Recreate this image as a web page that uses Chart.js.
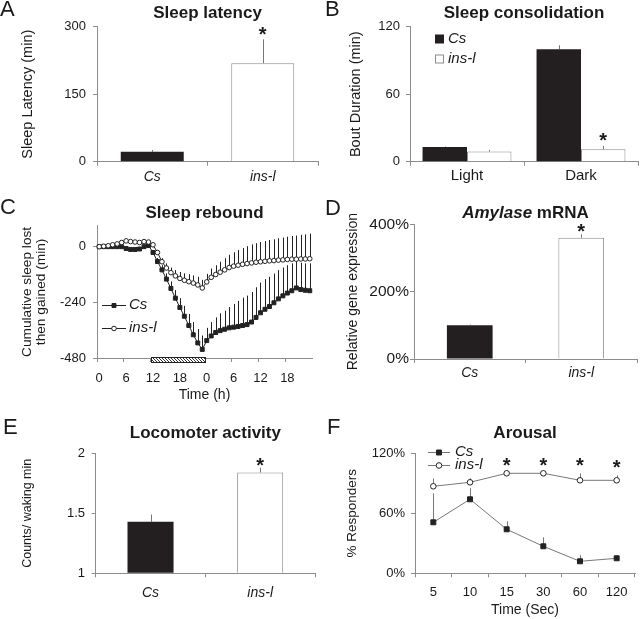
<!DOCTYPE html>
<html>
<head>
<meta charset="utf-8">
<script src="https://cdn.jsdelivr.net/npm/chart.js@4.4.1/dist/chart.umd.min.js"></script>
<style>
  html, body { margin: 0; padding: 0; background: #fff; }
  #figure { position: relative; width: 640px; height: 619px; overflow: hidden; }
  #figure canvas { position: absolute; }
</style>
</head>
<body>
<div id="figure">
  <canvas id="panel-a" width="320" height="195" style="left:0;top:0"></canvas>
  <canvas id="panel-b" width="320" height="195" style="left:320px;top:0"></canvas>
  <canvas id="panel-c" width="320" height="215" style="left:0;top:195px"></canvas>
  <canvas id="panel-d" width="320" height="215" style="left:320px;top:195px"></canvas>
  <canvas id="panel-e" width="320" height="209" style="left:0;top:410px"></canvas>
  <canvas id="panel-f" width="320" height="209" style="left:320px;top:410px"></canvas>
</div>
<script>
// ---- data ----
const genotypes = ['Cs', 'ins-l'];

// A: sleep latency (min)
const latencyMeans = [22, 219];
const latencyErrors = [4, 53];
const latencySig = [false, true];
const latencyTicks = [0, 150, 300];

// B: sleep consolidation, bout duration (min)
const boutPhases = ['Light', 'Dark'];
const boutCs = [13, 100];
const boutCsErr = [0.5, 3.5];
const boutIns = [9, 11];
const boutInsErr = [1.5, 3];
const boutInsSig = [false, true];
const boutTicks = [0, 60, 120];

// C: sleep rebound, cumulative sleep lost then gained (min), hourly
const reboundClock = [0, 1, 2, 3, 4, 5, 6, 7, 8, 9, 10, 11, 12, 13, 14, 15, 16, 17, 18, 19, 20, 21, 22, 23,
                      0, 1, 2, 3, 4, 5, 6, 7, 8, 9, 10, 11, 12, 13, 14, 15, 16, 17, 18, 19, 20, 21, 22, 23];
const reboundCs = [0, 0, 0, 0, 0, 0, -8, -12, -12, -10, 0, 5,
                   -25, -64, -100, -140, -180, -222, -262, -300, -340, -380, -415, -443,
                   -405, -385, -370, -362, -356, -350, -347, -344, -340, -336, -325, -305,
                   -285, -270, -258, -242, -225, -212, -200, -190, -178, -185, -188, -190];
const reboundCsErr = [0, 0, 0, 0, 0, 0, 0, 0, 0, 0, 0, 0,
                      10, 15, 20, 25, 30, 35, 40, 45, 50, 55, 60, 60,
                      55, 60, 65, 75, 80, 90, 100, 110, 120, 125, 130, 130,
                      130, 130, 128, 126, 124, 122, 120, 118, 116, 116, 116, 118];
const reboundIns = [0, 2, 4, 8, 12, 18, 25, 22, 20, 18, 22, 20,
                    8, -25, -65, -92, -112, -126, -137, -145, -151, -157, -165, -178,
                    -152, -132, -120, -110, -100, -90, -84, -80, -76, -73, -70, -67,
                    -65, -63, -61, -60, -58, -57, -55, -54, -54, -53, -53, -52];
const reboundInsErr = [0, 0, 0, 0, 0, 0, 0, 0, 0, 0, 0, 0,
                       0, 10, 15, 20, 22, 25, 28, 30, 32, 33, 35, 35,
                       35, 38, 40, 45, 50, 55, 60, 65, 70, 75, 80, 82,
                       85, 87, 90, 92, 94, 96, 98, 100, 102, 104, 106, 108];
const reboundTicks = [-480, -240, 0];
const deprivationSpan = [12, 23]; // first and last hour index under the hatched bar

// D: Amylase mRNA, relative gene expression (%)
const amylaseMeans = [100, 360];
const amylaseErrors = [2, 10];
const amylaseSig = [false, true];
const amylaseTicks = [0, 200, 400];

// E: locomoter activity, counts per waking min
const locoMeans = [1.43, 1.84];
const locoErrors = [0.06, 0.04];
const locoSig = [false, true];
const locoTicks = [1, 1.5, 2];

// F: arousal, % responders
const arousalTimes = ['5', '10', '15', '30', '60', '120'];
const arousalCs = [51, 74, 44, 27, 12, 15];
const arousalCsErr = [29, 11, 8, 9, 6, 3];
const arousalIns = [87, 91, 100, 100, 93, 93];
const arousalInsErr = [8, 4, 0, 0, 7, 5];
const arousalSig = [false, false, true, true, true, true];
const arousalTicks = [0, 60, 120];

// ---- look ----
const FONT = "'Liberation Sans', Arial, Helvetica, sans-serif";
const AXIS = '#8c8c8c';
const DARK = '#231f20';
const TEXT = '#1a1a1a';

Chart.defaults.font.family = FONT;
Chart.defaults.color = TEXT;
Chart.defaults.animation = false;

function drawMarker(ctx, ds, x, y) {
    const r = ds.pointRadius;
    ctx.fillStyle = ds.pointBackgroundColor;
    ctx.strokeStyle = ds.pointBorderColor;
    ctx.lineWidth = 1;
    ctx.beginPath();
    if (ds.pointStyle === 'rect') {
        const s = r * Math.SQRT1_2;
        ctx.rect(x - s, y - s, 2 * s, 2 * s);
    } else {
        ctx.arc(x, y, r, 0, Math.PI * 2);
    }
    ctx.fill();
    ctx.stroke();
}

// panel letter + title centred over the plot area
const panelText = {
    id: 'panelText',
    afterDraw(chart, args, opts) {
        if (!opts.letter) return;
        const ctx = chart.ctx;
        const area = chart.chartArea;
        ctx.save();
        ctx.fillStyle = TEXT;
        ctx.textBaseline = 'middle';
        ctx.textAlign = 'left';
        ctx.font = `22px ${FONT}`;
        ctx.fillText(opts.letter, opts.letterX, opts.letterY);

        const fontOf = p => `${p.italic ? 'italic ' : ''}bold 17px ${FONT}`;
        const widths = opts.title.map(p => { ctx.font = fontOf(p); return ctx.measureText(p.text).width; });
        const total = widths.reduce((a, b) => a + b, 0);
        let x = (area.left + area.right) / 2 - total / 2;
        opts.title.forEach((p, i) => {
            ctx.font = fontOf(p);
            ctx.fillText(p.text, x, opts.titleY);
            x += widths[i];
        });
        ctx.restore();
    }
};

// upper error bars from dataset.errors
const errorBars = {
    id: 'errorBars',
    beforeDatasetsDraw(chart, args, opts) {
        const ctx = chart.ctx;
        const yScale = chart.scales.y;
        chart.data.datasets.forEach((ds, di) => {
            if (!ds.errors) return;
            const meta = chart.getDatasetMeta(di);
            ctx.save();
            ctx.strokeStyle = opts.color || '#777';
            ctx.lineWidth = 1;
            meta.data.forEach((el, i) => {
                const err = ds.errors[i];
                if (!err) return;
                const top = yScale.getPixelForValue(ds.data[i] + err);
                const x = Math.round(el.x) + 0.5;
                ctx.beginPath();
                ctx.moveTo(x, el.y);
                ctx.lineTo(x, top);
                ctx.stroke();
            });
            ctx.restore();
        });
    }
};

// significance asterisks above dataset.stars
const stars = {
    id: 'stars',
    afterDatasetsDraw(chart, args, opts) {
        const ctx = chart.ctx;
        const yScale = chart.scales.y;
        chart.data.datasets.forEach((ds, di) => {
            if (!ds.stars) return;
            const meta = chart.getDatasetMeta(di);
            ctx.save();
            ctx.font = `bold 20px ${FONT}`;
            ctx.fillStyle = TEXT;
            ctx.textAlign = 'center';
            ctx.textBaseline = 'alphabetic';
            const m = ctx.measureText('*');
            const shift = (m.actualBoundingBoxAscent - m.actualBoundingBoxDescent) / 2;
            ds.stars.forEach((on, i) => {
                if (!on) return;
                const top = yScale.getPixelForValue(ds.data[i] + (ds.errors ? ds.errors[i] : 0));
                ctx.fillText('*', meta.data[i].x, top - (opts.gap || 8) + shift);
            });
            ctx.restore();
        });
    }
};

// legend drawn inside the plot area
const insideLegend = {
    id: 'insideLegend',
    afterDraw(chart, args, opts) {
        if (!opts.rows) return;
        const ctx = chart.ctx;
        ctx.save();
        chart.data.datasets.forEach((ds, i) => {
            const cy = opts.rows[i];
            if (opts.symbol === 'box') {
                const b = opts.box;
                ctx.fillStyle = ds.backgroundColor;
                ctx.fillRect(opts.x, cy - b / 2, b, b);
                if (ds.borderWidth) {
                    ctx.strokeStyle = ds.borderColor;
                    ctx.lineWidth = 1;
                    ctx.strokeRect(opts.x + 0.5, cy - b / 2 + 0.5, b - 1, b - 1);
                }
            } else {
                ctx.strokeStyle = ds.borderColor;
                ctx.lineWidth = 1;
                ctx.beginPath();
                ctx.moveTo(opts.x, Math.round(cy) + 0.5);
                ctx.lineTo(opts.x + opts.len, Math.round(cy) + 0.5);
                ctx.stroke();
                drawMarker(ctx, ds, opts.x + opts.len / 2, Math.round(cy) + 0.5);
            }
            ctx.fillStyle = TEXT;
            ctx.font = `italic 15px ${FONT}`;
            ctx.textBaseline = 'middle';
            ctx.fillText(ds.label, opts.textX, cy);
        });
        ctx.restore();
    }
};

// hatched sleep-deprivation bar along the time axis
const hatchBar = {
    id: 'hatchBar',
    afterDraw(chart, args, opts) {
        if (!opts.span) return;
        const ctx = chart.ctx;
        const xs = chart.scales.x;
        const half = (xs.getPixelForValue(1) - xs.getPixelForValue(0)) / 2;
        const x0 = Math.round(xs.getPixelForValue(opts.span[0]) - half) + 0.5;
        const x1 = Math.round(xs.getPixelForValue(opts.span[1]) + half) + 0.5;
        const y0 = Math.round(chart.chartArea.bottom) - 0.5;
        const h = opts.height;
        ctx.save();
        ctx.fillStyle = '#fff';
        ctx.fillRect(x0, y0, x1 - x0, h);
        ctx.beginPath();
        ctx.rect(x0, y0, x1 - x0, h);
        ctx.clip();
        ctx.strokeStyle = '#333';
        ctx.lineWidth = 1;
        for (let s = x0 - h; s < x1; s += 3) {
            ctx.beginPath();
            ctx.moveTo(s, y0);
            ctx.lineTo(s + h, y0 + h);
            ctx.stroke();
        }
        ctx.restore();
        ctx.save();
        ctx.strokeStyle = '#222';
        ctx.lineWidth = 1;
        ctx.strokeRect(x0, y0, x1 - x0, h);
        ctx.restore();
    }
};

Chart.register(panelText, errorBars, stars, insideLegend, hatchBar);

function yAxis(o) {
    const ticks = { font: { size: o.tickSize || 13 }, padding: o.tickPad };
    if (o.fmt) ticks.callback = o.fmt;
    return {
        min: o.min,
        max: o.max,
        afterFit: s => { s.width = o.width; },
        afterBuildTicks: s => { s.ticks = o.ticks.map(v => ({ value: v })); },
        border: { color: AXIS },
        grid: { drawOnChartArea: false, color: AXIS, tickLength: o.tickLength || 4 },
        ticks: ticks,
        title: {
            display: true,
            text: o.title,
            font: { size: o.titleSize, lineHeight: o.titleLine || 1.2 },
            padding: { top: o.titlePad, bottom: 0 }
        }
    };
}

function xAxis(o) {
    const grid = { offset: true, drawOnChartArea: false, color: AXIS, tickLength: 4 };
    if (o.tickColor) grid.tickColor = o.tickColor;
    const ticks = {
        font: { size: o.tickSize || 14, style: o.italic ? 'italic' : 'normal' },
        padding: o.tickPad,
        autoSkip: false,
        maxRotation: 0
    };
    if (o.fmt) ticks.callback = o.fmt;
    const axis = {
        type: 'category',
        offset: true,
        afterFit: s => { s.height = o.height; },
        border: { color: AXIS },
        grid: grid,
        ticks: ticks
    };
    if (o.title) {
        axis.title = { display: true, text: o.title, font: { size: 14 }, padding: { top: 0, bottom: o.titlePad } };
    }
    return axis;
}

function basePlugins(extra) {
    return Object.assign({ legend: { display: false }, tooltip: { enabled: false } }, extra);
}

// ---- A: Sleep latency ----
new Chart(document.getElementById('panel-a'), {
    type: 'bar',
    data: {
        labels: genotypes,
        datasets: [{
            label: 'Sleep latency',
            data: latencyMeans,
            errors: latencyErrors,
            stars: latencySig,
            backgroundColor: [DARK, '#ffffff'],
            borderColor: [DARK, AXIS],
            borderWidth: [0, 1],
            barPercentage: 0.57,
            categoryPercentage: 1
        }]
    },
    options: {
        responsive: false,
        layout: { padding: { top: 26.7, right: 2, left: 0, bottom: 0 } },
        scales: {
            x: xAxis({ height: 33.3, italic: true, tickPad: 2.9 }),
            y: yAxis({ min: 0, max: 300, ticks: latencyTicks, width: 97, tickPad: 7,
                       title: 'Sleep Latency (min)', titleSize: 14.5, titlePad: 18.8 })
        },
        plugins: basePlugins({
            panelText: { letter: 'A', letterX: 0, letterY: 10, title: [{ text: 'Sleep latency' }], titleY: 13.3 },
            errorBars: { color: '#777' },
            stars: { gap: 8 }
        })
    }
});

// ---- B: Sleep consolidation ----
new Chart(document.getElementById('panel-b'), {
    type: 'bar',
    data: {
        labels: boutPhases,
        datasets: [
            {
                label: 'Cs',
                data: boutCs,
                errors: boutCsErr,
                backgroundColor: DARK,
                borderWidth: 0,
                barPercentage: 1,
                categoryPercentage: 0.78
            },
            {
                label: 'ins-l',
                data: boutIns,
                errors: boutInsErr,
                stars: boutInsSig,
                backgroundColor: '#ffffff',
                borderColor: AXIS,
                borderWidth: 1,
                barPercentage: 1,
                categoryPercentage: 0.78
            }
        ]
    },
    options: {
        responsive: false,
        layout: { padding: { top: 26.7, right: 2, left: 0, bottom: 0 } },
        scales: {
            x: xAxis({ height: 33.3, tickSize: 15, tickPad: 1.3 }),
            y: yAxis({ min: 0, max: 120, ticks: boutTicks, width: 90, tickPad: 6,
                       title: 'Bout Duration (min)', titleSize: 14.5, titlePad: 27.1 })
        },
        plugins: basePlugins({
            panelText: { letter: 'B', letterX: 5, letterY: 10, title: [{ text: 'Sleep consolidation' }], titleY: 13.3 },
            errorBars: { color: '#777' },
            stars: { gap: 9 },
            insideLegend: { symbol: 'box', x: 115, box: 9, rows: [39, 59], textX: 128 }
        })
    }
});

// ---- C: Sleep rebound ----
new Chart(document.getElementById('panel-c'), {
    type: 'line',
    data: {
        labels: reboundClock,
        datasets: [
            {
                label: 'Cs',
                data: reboundCs,
                errors: reboundCsErr,
                order: 2,
                borderColor: '#222',
                borderWidth: 1,
                tension: 0,
                pointStyle: 'rect',
                pointRadius: 2.8,
                pointBorderWidth: 1,
                pointBackgroundColor: '#222',
                pointBorderColor: '#222'
            },
            {
                label: 'ins-l',
                data: reboundIns,
                errors: reboundInsErr,
                order: 1,
                borderColor: '#222',
                borderWidth: 1,
                tension: 0,
                pointStyle: 'circle',
                pointRadius: 2.3,
                pointBorderWidth: 1,
                pointBackgroundColor: '#ffffff',
                pointBorderColor: '#222'
            }
        ]
    },
    options: {
        responsive: false,
        layout: { padding: { top: 30.8, right: 8, left: 0, bottom: 0 } },
        scales: {
            x: xAxis({
                height: 52, tickSize: 13, tickPad: 8.5, title: 'Time (h)', titlePad: 6.6,
                tickColor: ctx => (ctx.index % 6 === 0 ? AXIS : 'rgba(0,0,0,0)'),
                fmt: (v, i) => (i % 6 === 0 ? String(reboundClock[i]) : '')
            }),
            y: yAxis({ min: -480, max: 90, ticks: reboundTicks, width: 97, tickPad: 7,
                       title: ['Cumulative sleep lost', 'then gained (min)'],
                       titleSize: 13.7, titleLine: 1, titlePad: 20.6 })
        },
        plugins: basePlugins({
            panelText: { letter: 'C', letterX: 0, letterY: 13, title: [{ text: 'Sleep rebound' }], titleY: 18.3 },
            errorBars: { color: '#222' },
            insideLegend: { symbol: 'line', x: 102, len: 24, rows: [110, 133.3], textX: 129 },
            hatchBar: { span: deprivationSpan, height: 5 }
        })
    }
});

// ---- D: Amylase mRNA ----
new Chart(document.getElementById('panel-d'), {
    type: 'bar',
    data: {
        labels: genotypes,
        datasets: [{
            label: 'Amylase',
            data: amylaseMeans,
            errors: amylaseErrors,
            stars: amylaseSig,
            backgroundColor: [DARK, '#ffffff'],
            borderColor: [DARK, AXIS],
            borderWidth: [0, 1],
            barPercentage: 0.41,
            categoryPercentage: 1
        }]
    },
    options: {
        responsive: false,
        layout: { padding: { top: 29.3, right: 3, left: 0, bottom: 0 } },
        scales: {
            x: xAxis({ height: 51, italic: true, tickPad: 1.9 }),
            y: yAxis({ min: 0, max: 400, ticks: amylaseTicks, width: 94, tickPad: 1, tickSize: 15.5,
                       fmt: v => v + '%',
                       title: 'Relative gene expression', titleSize: 14, titlePad: 24.6 })
        },
        plugins: basePlugins({
            panelText: { letter: 'D', letterX: 5, letterY: 14,
                         title: [{ text: 'Amylase', italic: true }, { text: ' mRNA' }], titleY: 18.3 },
            errorBars: { color: '#777' },
            stars: { gap: 6 }
        })
    }
});

// ---- E: Locomoter activity ----
new Chart(document.getElementById('panel-e'), {
    type: 'bar',
    data: {
        labels: genotypes,
        datasets: [{
            label: 'Locomoter activity',
            data: locoMeans,
            errors: locoErrors,
            stars: locoSig,
            base: 1,
            backgroundColor: [DARK, '#ffffff'],
            borderColor: [DARK, AXIS],
            borderWidth: [0, 1],
            barPercentage: 0.42,
            categoryPercentage: 1
        }]
    },
    options: {
        responsive: false,
        layout: { padding: { top: 43.3, right: 5, left: 0, bottom: 0 } },
        scales: {
            x: xAxis({ height: 45.7, italic: true, tickPad: 7 }),
            y: yAxis({ min: 1, max: 2, ticks: locoTicks, width: 95.7, tickPad: 6.7,
                       fmt: v => String(v),
                       title: 'Counts/ waking min', titleSize: 12.5, titlePad: 20 })
        },
        plugins: basePlugins({
            panelText: { letter: 'E', letterX: 3, letterY: 18.3, title: [{ text: 'Locomoter activity' }], titleY: 23.3 },
            errorBars: { color: '#777' },
            stars: { gap: 6 }
        })
    }
});

// ---- F: Arousal ----
new Chart(document.getElementById('panel-f'), {
    type: 'line',
    data: {
        labels: arousalTimes,
        datasets: [
            {
                label: 'Cs',
                data: arousalCs,
                errors: arousalCsErr,
                order: 2,
                borderColor: '#777',
                borderWidth: 1,
                tension: 0,
                pointStyle: 'rect',
                pointRadius: 3.5,
                pointBorderWidth: 1,
                pointBackgroundColor: '#222',
                pointBorderColor: '#222'
            },
            {
                label: 'ins-l',
                data: arousalIns,
                errors: arousalInsErr,
                stars: arousalSig,
                order: 1,
                borderColor: '#777',
                borderWidth: 1,
                tension: 0,
                pointStyle: 'circle',
                pointRadius: 2.8,
                pointBorderWidth: 1,
                pointBackgroundColor: '#ffffff',
                pointBorderColor: '#222'
            }
        ]
    },
    options: {
        responsive: false,
        layout: { padding: { top: 43.3, right: 1, left: 0, bottom: 0 } },
        scales: {
            x: xAxis({ height: 45.7, tickSize: 13, tickPad: 7.6, title: 'Time (Sec)', titlePad: 0.6 }),
            y: yAxis({ min: 0, max: 120, ticks: arousalTicks, width: 95, tickPad: 6,
                       fmt: v => v + '%',
                       title: '% Responders', titleSize: 13.5, titlePad: 24.4 })
        },
        plugins: basePlugins({
            panelText: { letter: 'F', letterX: 7, letterY: 18.3, title: [{ text: 'Arousal' }], titleY: 23.3 },
            errorBars: { color: '#777' },
            stars: { gap: 11.6 },
            insideLegend: { symbol: 'line', x: 108, len: 22, rows: [41.7, 55], textX: 135 }
        })
    }
});
</script>
</body>
</html>
